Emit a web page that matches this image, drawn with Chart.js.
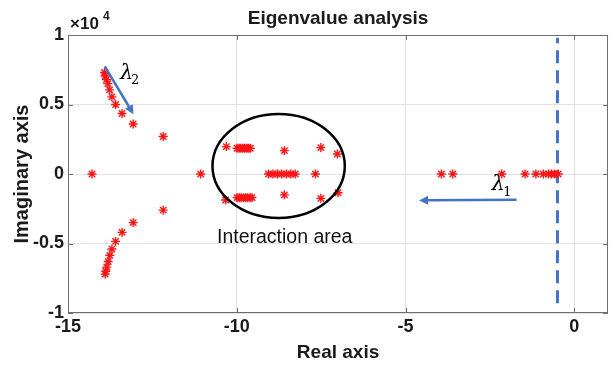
<!DOCTYPE html>
<html><head><meta charset="utf-8">
<script src="https://cdn.jsdelivr.net/npm/chart.js@4"></script>
<style>html,body{margin:0;padding:0;background:#fff}#wrap{width:614px;height:365px}</style>
</head><body><div id="wrap"><canvas id="c" width="614" height="365"></canvas></div>
<script>
// ---- data (imaginary parts in units of 10^4) ----
const upperBranchRe = [-13.92, -13.90, -13.86, -13.82, -13.77, -13.70, -13.59, -13.40, -13.07, -12.18];
const upperBranchIm = [0.73, 0.705, 0.68, 0.65, 0.605, 0.555, 0.50, 0.435, 0.36, 0.27];
const lowerBranchRe = [-13.90, -13.88, -13.85, -13.81, -13.76, -13.70, -13.59, -13.40, -13.07, -12.18];
const lowerBranchIm = [-0.72, -0.70, -0.67, -0.63, -0.585, -0.54, -0.485, -0.42, -0.35, -0.26];
const clusterUpperRe = [-10.31, -9.99, -9.93, -9.88, -9.82, -9.77, -9.71, -9.66, -9.60, -8.59, -7.51, -7.02];
const clusterUpperIm = [0.197, 0.185, 0.185, 0.185, 0.185, 0.185, 0.185, 0.185, 0.185, 0.168, 0.19, 0.144];
const clusterLowerRe = [-10.33, -9.99, -9.93, -9.87, -9.80, -9.74, -9.68, -9.61, -9.55, -8.59, -7.51, -7.00];
const clusterLowerIm = [-0.187, -0.17, -0.17, -0.17, -0.17, -0.17, -0.17, -0.17, -0.17, -0.15, -0.175, -0.135];
const realAxisRe = [-14.29, -11.07, -9.06, -8.93, -8.80, -8.67, -8.53, -8.40, -8.27, -7.67,
                    -3.94, -3.60, -2.15, -1.46, -1.14, -0.92, -0.77, -0.68, -0.58, -0.48];
const boundaryRe = -0.5;
const boundaryIm = [-0.93, 0.98];
const xTickValues = [-15, -10, -5, 0];
const xTickLabels = ['-15', '-10', '-5', '0'];
const yTickValues = [-1, -0.5, 0, 0.5, 1];
const yTickLabels = ['-1', '-0.5', '0', '0.5', '1'];

const zip = (re, im) => re.map((r, i) => ({x: r, y: im[i]}));
const eig = [].concat(
  zip(upperBranchRe, upperBranchIm),
  zip(lowerBranchRe, lowerBranchIm),
  zip(clusterUpperRe, clusterUpperIm),
  zip(clusterLowerRe, clusterLowerIm),
  realAxisRe.map(r => ({x: r, y: 0}))
);

const TXT = '#1a1a1a';
const FRAME = '#6e6e6e';
const BLUE = '#4472C4';
const SANS = "'Liberation Sans', Arial, sans-serif";

function arrow(ctx, x1, y1, x2, y2, color, lw, hl, hw) {
  const a = Math.atan2(y2 - y1, x2 - x1);
  const bx = x2 - hl * Math.cos(a), by = y2 - hl * Math.sin(a);
  ctx.save();
  ctx.strokeStyle = color; ctx.lineWidth = lw; ctx.lineCap = 'butt';
  ctx.beginPath(); ctx.moveTo(x1, y1); ctx.lineTo(bx, by); ctx.stroke();
  ctx.fillStyle = color; ctx.beginPath(); ctx.moveTo(x2, y2);
  ctx.lineTo(bx + hw * Math.sin(a), by - hw * Math.cos(a));
  ctx.lineTo(bx - hw * Math.sin(a), by + hw * Math.cos(a));
  ctx.closePath(); ctx.fill();
  ctx.restore();
}

const annotations = {
  id: 'annotations',
  afterDatasetsDraw(chart) {
    const {ctx, scales: {x, y}} = chart;
    const px = v => x.getPixelForValue(v), py = v => y.getPixelForValue(v);
    ctx.save();
    // interaction ellipse
    const cx = px(-8.76), cy = py(0.058);
    const rx = Math.abs(px(-8.76 + 1.96) - cx), ry = Math.abs(py(0.058 + 0.374) - cy);
    ctx.strokeStyle = '#000'; ctx.lineWidth = 2.5;
    ctx.beginPath(); ctx.ellipse(cx, cy, rx, ry, 0, 0, Math.PI * 2); ctx.stroke();
    // label
    ctx.fillStyle = '#111'; ctx.font = '19.5px ' + SANS;
    ctx.textAlign = 'center'; ctx.textBaseline = 'middle';
    ctx.fillText('Interaction area', px(-8.58), py(-0.455));
    // lambda 2 arrow
    arrow(ctx, px(-13.91), py(0.775), px(-13.06), py(0.43), BLUE, 2.5, 9, 4.5);
    // lambda 1 arrow
    arrow(ctx, px(-1.71), py(-0.185), px(-4.6), py(-0.19), BLUE, 2.5, 9, 4.5);
    // lambda labels
    ctx.fillStyle = '#000';
    ctx.font = "italic 21px 'DejaVu Serif', serif";
    ctx.fillText('λ', px(-13.26), py(0.725));
    ctx.fillText('λ', px(-2.26), py(-0.075));
    ctx.font = "13px 'DejaVu Serif', serif";
    ctx.fillText('2', px(-13.01), py(0.67));
    ctx.fillText('1', px(-1.98), py(-0.135));
    ctx.restore();
  },
  afterDraw(chart) {
    const {ctx, chartArea: a, scales: {x, y}} = chart;
    ctx.save();
    ctx.strokeStyle = FRAME; ctx.lineWidth = 1;
    ctx.strokeRect(Math.round(a.left) + 0.5, Math.round(a.top) + 0.5,
                   Math.round(a.right - a.left) - 1, Math.round(a.bottom - a.top) - 1);
    ctx.beginPath();
    xTickValues.forEach(v => {
      const p = Math.round(x.getPixelForValue(v)) + 0.5;
      ctx.moveTo(p, a.bottom); ctx.lineTo(p, a.bottom - 5);
      ctx.moveTo(p, a.top); ctx.lineTo(p, a.top + 5);
    });
    yTickValues.forEach(v => {
      const p = Math.round(y.getPixelForValue(v)) + 0.5;
      ctx.moveTo(a.left, p); ctx.lineTo(a.left + 5, p);
      ctx.moveTo(a.right, p); ctx.lineTo(a.right - 5, p);
    });
    ctx.stroke();
    // exponent label
    ctx.fillStyle = TXT; ctx.textBaseline = 'middle'; ctx.textAlign = 'left';
    ctx.font = 'bold 17px ' + SANS;
    ctx.fillText('×10', a.left + 2, 24);
    ctx.font = 'bold 12px ' + SANS;
    ctx.fillText('4', a.left + 35, 17);
    ctx.restore();
  }
};

new Chart(document.getElementById('c'), {
  type: 'scatter',
  data: {
    datasets: [
      {
        data: eig,
        pointStyle: 'star', pointRadius: 4.5, pointHoverRadius: 4.5,
        borderColor: 'rgb(250,20,20)', backgroundColor: 'rgb(250,20,20)', borderWidth: 1.4
      },
      {
        data: boundaryIm.map(v => ({x: boundaryRe, y: v})),
        showLine: true, pointRadius: 0, borderColor: BLUE, borderWidth: 3,
        borderDash: [13, 7], fill: false
      }
    ]
  },
  options: {
    responsive: false, animation: false, events: [],
    layout: {padding: {left: 0, right: -3, top: 0, bottom: 0}},
    plugins: {
      legend: {display: false}, tooltip: {enabled: false},
      title: {
        display: true, text: 'Eigenvalue analysis', fullSize: false, color: TXT,
        font: {family: SANS, size: 19, weight: 'bold', lineHeight: 1.2},
        padding: {top: 7, bottom: 5.2}
      }
    },
    scales: {
      x: {
        type: 'linear', position: 'bottom', min: -15, max: 1, bounds: 'data',
        afterBuildTicks: s => { s.ticks = xTickValues.map(v => ({value: v})); },
        afterFit: s => { s.height = 52; },
        ticks: {
          stepSize: 5, autoSkip: false, maxRotation: 0, padding: 3,
          color: TXT, font: {family: SANS, size: 18, weight: 'bold'},
          callback: v => { const i = xTickValues.indexOf(v); return i < 0 ? '' : xTickLabels[i]; }
        },
        grid: {color: '#e2e2e2', drawTicks: false, lineWidth: 1},
        border: {display: false},
        title: {display: true, text: 'Real axis', color: TXT,
                font: {family: SANS, size: 19, weight: 'bold', lineHeight: 1.2}, padding: {top: 0, bottom: 1}}
      },
      y: {
        type: 'linear', position: 'left', min: -1, max: 1,
        afterBuildTicks: s => { s.ticks = yTickValues.map(v => ({value: v})); },
        afterFit: s => { s.width = 68; },
        ticks: {
          stepSize: 0.5, autoSkip: false, padding: 4,
          color: TXT, font: {family: SANS, size: 18, weight: 'bold'},
          callback: v => { const i = yTickValues.indexOf(v); return i < 0 ? '' : yTickLabels[i]; }
        },
        grid: {color: '#e2e2e2', drawTicks: false, lineWidth: 1},
        border: {display: false},
        title: {display: true, text: 'Imaginary axis', color: TXT,
                font: {family: SANS, size: 20, weight: 'bold', lineHeight: 1.2}, padding: {top: 10, bottom: 0}}
      }
    }
  },
  plugins: [annotations]
});
</script>
</body></html>
